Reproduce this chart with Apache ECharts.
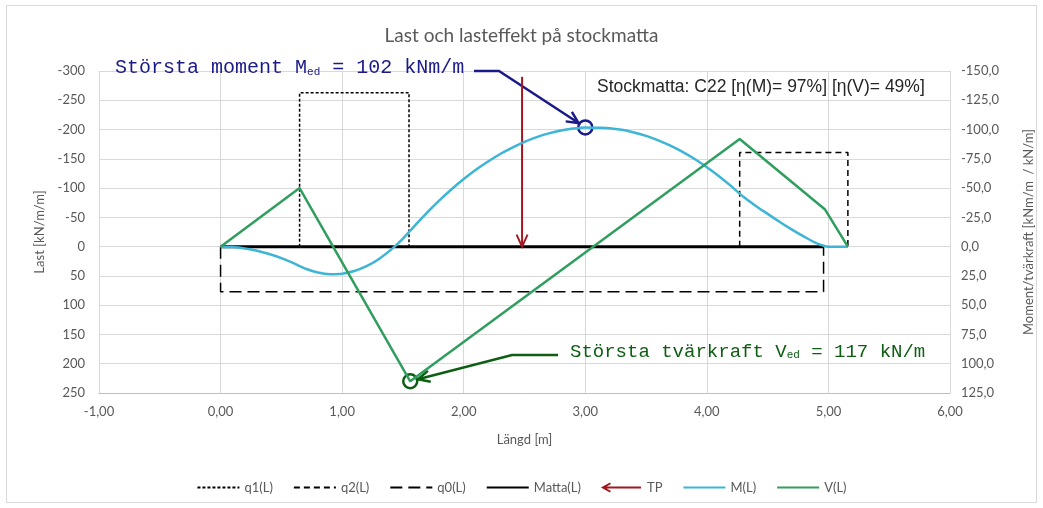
<!DOCTYPE html>
<html>
<head>
<meta charset="utf-8">
<script src="https://cdn.jsdelivr.net/npm/echarts@6/dist/echarts.min.js"></script>
<style>
html, body { margin: 0; padding: 0; background: #fff; }
#chart { width: 1043px; height: 508px; }
</style>
</head>
<body>
<div id="chart"></div>
<script>
// laster, vänster axel [kN/m/m]
const q1 = [[0.65, 0], [0.65, -263], [1.55, -263], [1.55, 0]]
const q2 = [[4.27, 0], [4.27, -161], [5.16, -161], [5.16, 0]]
const q0 = [[0, 0], [0, 77], [4.96, 77], [4.96, 0]]
const matta = [[0, 0], [4.96, 0]]
const tp = [[2.48, -290], [2.48, 0]]

// lasteffekt, höger axel [kNm/m / kN/m]
const mX = [0, 0.1, 0.2, 0.3, 0.4, 0.5, 0.6, 0.7, 0.8, 0.9, 1.0, 1.1, 1.2, 1.3, 1.4, 1.5, 1.6, 1.7, 1.8, 1.9,
    2.0, 2.1, 2.2, 2.3, 2.4, 2.5, 2.6, 2.7, 2.8, 2.9, 3.0, 3.1, 3.2, 3.3, 3.4, 3.5, 3.6, 3.7, 3.8, 3.9,
    4.0, 4.1, 4.2, 4.3, 4.4, 4.5, 4.6, 4.7, 4.8, 4.9, 5.0, 5.16]
const mY = [0, 0.4, 1.6, 3.5, 6.3, 9.8, 14.1, 18.9, 22.1, 23.5, 23.1, 20.8, 16.7, 10.7, 2.8, -6.9, -18.2, -29.3, -39.5, -49,
    -57.7, -65.6, -72.7, -79.1, -84.6, -89.5, -93.5, -96.7, -99.2, -100.8, -101.8, -101.5, -101.2, -99.8, -97.5, -94.6, -90.8, -86.2, -80.9, -74.8,
    -67.8, -60.2, -51.7, -42.6, -35, -28, -21, -14.5, -8.5, -3, 0, 0]
const vX = [0, 0.65, 1.56, 4.27, 4.97, 5.16]
const vY = [0, -50, 115, -92, -32, 0]

// axlar
const xRange = [-1, 6, 1]
const lastRange = [-300, 250, 50]
const effRange = [-150, 125, 25]

const title = 'Last och lasteffekt på stockmatta'
const infoText = 'Stockmatta: C22 [η(M)= 97%] [η(V)= 49%]'
const grey = '#595959'
const gridCol = '#d9d9d9'
const blue = '#1a1a8a'
const green = '#0d5e12'
const colM = '#3db5d6'
const colV = '#2f9e5e'
const colTP = '#a3161f'
const font = 'Lato, "Liberation Sans", sans-serif'
const mono = '"Liberation Mono", "DejaVu Sans Mono", monospace'

const zip = (xs, ys) => xs.map((x, i) => [x, ys[i]])
const comma = (v, d) => v.toFixed(d).replace('.', ',')

const chart = echarts.init(document.getElementById('chart'))

const option = {
    animation: false,
    title: {
        text: title, left: 'center', top: 21,
        textStyle: { color: grey, fontSize: 19, fontWeight: 'normal', fontFamily: font }
    },
    grid: { left: 99, right: 92, top: 71, bottom: 115 },
    legend: {
        bottom: 9, left: 'center', itemWidth: 42, itemHeight: 10, itemGap: 20,
        itemStyle: { opacity: 0 },
        textStyle: { color: grey, fontSize: 13, fontFamily: font },
        data: [
            { name: 'q1(L)' }, { name: 'q2(L)' }, { name: 'q0(L)' }, { name: 'Matta(L)' },
            {
                name: 'TP', itemStyle: { opacity: 1 },
                icon: 'path://M0,5 L9,0 L10,1.6 L4,5 L10,8.4 L9,10 Z M3,4.1 L40,4.1 L40,5.9 L3,5.9 Z'
            },
            { name: 'M(L)' }, { name: 'V(L)' }
        ]
    },
    xAxis: {
        type: 'value', min: xRange[0], max: xRange[1], interval: xRange[2],
        name: 'Längd [m]', nameLocation: 'middle', nameGap: 40,
        nameTextStyle: { color: grey, fontSize: 13, fontFamily: font },
        axisLine: { onZero: false, lineStyle: { color: '#bfbfbf' } },
        axisTick: { show: false },
        axisLabel: { color: grey, fontSize: 13, fontFamily: font, margin: 12, formatter: v => comma(v, 2) },
        splitLine: { show: true, lineStyle: { color: gridCol } }
    },
    yAxis: [{
        type: 'value', inverse: true, min: lastRange[0], max: lastRange[1], interval: lastRange[2],
        name: 'Last [kN/m/m]', nameLocation: 'middle', nameGap: 52, nameRotate: 90,
        nameTextStyle: { color: grey, fontSize: 13, fontFamily: font },
        axisLine: { show: false }, axisTick: { show: false },
        axisLabel: { color: grey, fontSize: 13, fontFamily: font, margin: 14 },
        splitLine: { show: true, lineStyle: { color: gridCol } }
    }, {
        type: 'value', inverse: true, min: effRange[0], max: effRange[1], interval: effRange[2],
        name: 'Moment/tvärkraft [kNm/m  / kN/m]', nameLocation: 'middle', nameGap: 72, nameRotate: 90,
        nameTextStyle: { color: grey, fontSize: 13, fontFamily: font },
        axisLine: { show: false }, axisTick: { show: false },
        axisLabel: { color: grey, fontSize: 13, fontFamily: font, margin: 11, formatter: v => comma(v, 1) },
        splitLine: { show: false }
    }],
    series: [{
        name: 'q1(L)', type: 'line', data: q1, symbol: 'none', yAxisIndex: 0,
        lineStyle: { color: '#000', width: 1.5, type: [3, 2] }, itemStyle: { color: '#000' }
    }, {
        name: 'q2(L)', type: 'line', data: q2, symbol: 'none', yAxisIndex: 0,
        lineStyle: { color: '#000', width: 1.5, type: [6, 4] }, itemStyle: { color: '#000' }
    }, {
        name: 'q0(L)', type: 'line', data: q0, symbol: 'none', yAxisIndex: 0,
        lineStyle: { color: '#000', width: 1.5, type: [12, 6] }, itemStyle: { color: '#000' }
    }, {
        name: 'Matta(L)', type: 'line', data: matta, symbol: 'none', yAxisIndex: 0,
        lineStyle: { color: '#000', width: 3 }, itemStyle: { color: '#000' }
    }, {
        name: 'TP', type: 'line', yAxisIndex: 0, symbol: 'none',
        data: tp.map((p, i) => i === tp.length - 1 ? {
            value: p, symbol: 'path://M0,0 L6,10 L12,0', symbolSize: [11, 12], symbolOffset: [0, '-50%'],
            itemStyle: { color: 'none', borderColor: colTP, borderWidth: 2 }
        } : { value: p }),
        lineStyle: { color: colTP, width: 2 }, itemStyle: { color: colTP }
    }, {
        name: 'M(L)', type: 'line', data: zip(mX, mY), symbol: 'none', yAxisIndex: 1, smooth: 0.2,
        lineStyle: { color: colM, width: 2.5 }, itemStyle: { color: colM }
    }, {
        name: 'V(L)', type: 'line', data: zip(vX, vY), symbol: 'none', yAxisIndex: 1,
        lineStyle: { color: colV, width: 2.5 }, itemStyle: { color: colV }
    }]
}
chart.setOption(option)

// annoteringar: ringar kring största M och V, pilar och texter
function extreme(xs, ys, pick) {
    let k = 0
    ys.forEach((y, i) => { if (pick(y, ys[k])) k = i })
    return [xs[k], ys[k]]
}
const mMax = extreme(mX, mY, (a, b) => a < b)
const vMax = extreme(vX, vY, (a, b) => a > b)
const pm = chart.convertToPixel({ xAxisIndex: 0, yAxisIndex: 1 }, mMax)
const pv = chart.convertToPixel({ xAxisIndex: 0, yAxisIndex: 1 }, vMax)

function arrow(pts, target, color) {
    const r = 8
    const last = pts[pts.length - 1]
    const dx = target[0] - last[0], dy = target[1] - last[1]
    const len = Math.sqrt(dx * dx + dy * dy)
    const ux = dx / len, uy = dy / len
    const tip = [target[0] - ux * r, target[1] - uy * r]
    const h = 13, a = 0.45
    const left = [tip[0] - h * (ux * Math.cos(a) - uy * Math.sin(a)), tip[1] - h * (uy * Math.cos(a) + ux * Math.sin(a))]
    const right = [tip[0] - h * (ux * Math.cos(a) + uy * Math.sin(a)), tip[1] - h * (uy * Math.cos(a) - ux * Math.sin(a))]
    return [
        { type: 'polyline', shape: { points: pts.concat([tip]) }, style: { stroke: color, lineWidth: 2.5, fill: null } },
        { type: 'polyline', shape: { points: [left, tip, right] }, style: { stroke: color, lineWidth: 2.5, fill: null } },
        { type: 'circle', shape: { cx: target[0], cy: target[1], r: 7 }, style: { stroke: color, lineWidth: 2.5, fill: null } }
    ]
}

const graphic = [
    { type: 'rect', shape: { x: 6.5, y: 5.5, width: 1030, height: 497 }, style: { stroke: gridCol, fill: null, lineWidth: 1 }, silent: true },
    {
        type: 'text', left: 115, top: 58,
        style: {
            text: '{a|Största moment M}{s|ed}{a| = 102 kNm/m}',
            rich: {
                a: { fill: blue, fontSize: 20, fontFamily: mono },
                s: { fill: blue, fontSize: 11, fontFamily: mono, verticalAlign: 'bottom', padding: [8, 0, 0, 0] }
            }
        }
    },
    {
        type: 'text', left: 570, top: 342,
        style: {
            text: '{a|Största tvärkraft V}{s|ed}{a| = 117 kN/m}',
            rich: {
                a: { fill: green, fontSize: 19, fontFamily: mono },
                s: { fill: green, fontSize: 11, fontFamily: mono, verticalAlign: 'bottom', padding: [8, 0, 0, 0] }
            }
        }
    },
    {
        type: 'text', left: 597, top: 78,
        style: { text: infoText, fill: '#262626', fontSize: 17.5, fontFamily: '"Liberation Sans", Arial, sans-serif' }
    }
].concat(
    arrow([[474, 71], [499, 71]], pm, blue),
    arrow([[558, 355], [512, 355]], pv, green)
)
chart.setOption({ graphic: graphic })
</script>
</body>
</html>
